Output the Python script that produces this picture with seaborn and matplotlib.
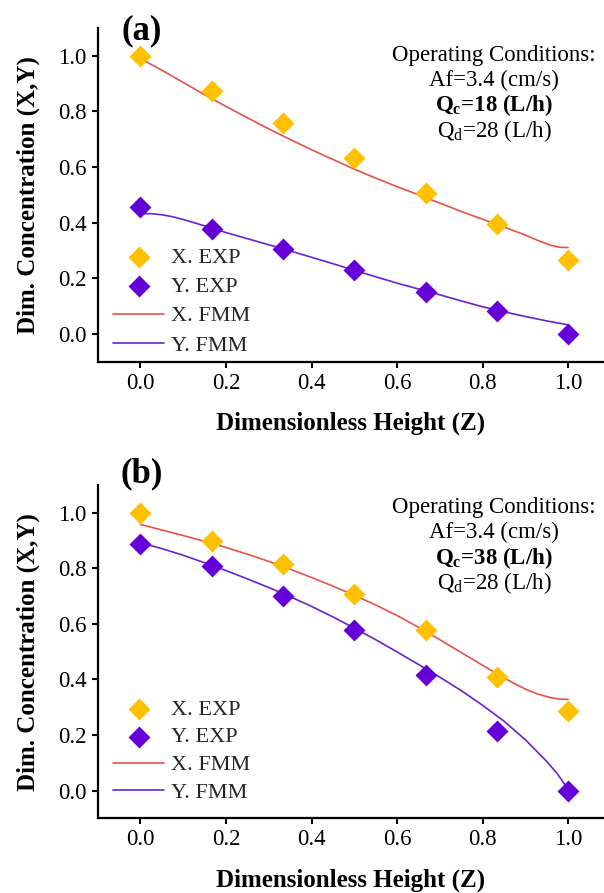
import matplotlib
matplotlib.use("Agg")
import matplotlib.pyplot as plt
import seaborn as sns

# ---------------- data ----------------
z_exp = [0.0, 0.167, 0.333, 0.5, 0.667, 0.833, 1.0]

# panel (a)  Qc = 18 L/h
xa_exp = [1.0, 0.875, 0.759, 0.633, 0.507, 0.393, 0.267]
ya_exp = [0.456, 0.378, 0.306, 0.228, 0.149, 0.080, 0.0]
z_fmm_a_x = [0.0, 0.05, 0.1, 0.15, 0.2, 0.25, 0.3, 0.35, 0.4, 0.45, 0.5, 0.55,
             0.6, 0.65, 0.7, 0.75, 0.8, 0.85, 0.9, 0.93, 0.96, 0.98, 1.0]
xa_fmm = [0.990, 0.948, 0.904, 0.860, 0.818, 0.777, 0.737, 0.699, 0.662, 0.627,
          0.592, 0.560, 0.529, 0.500, 0.470, 0.440, 0.412, 0.384, 0.355, 0.335,
          0.318, 0.311, 0.310]
z_fmm_a_y = [0.0, 0.025, 0.05, 0.075, 0.1, 0.15, 0.2, 0.25, 0.3, 0.35, 0.4,
             0.45, 0.5, 0.55, 0.6, 0.65, 0.7, 0.75, 0.8, 0.85, 0.9, 0.95, 1.0]
ya_fmm = [0.432, 0.432, 0.428, 0.421, 0.411, 0.388, 0.364, 0.342, 0.320, 0.298,
          0.275, 0.252, 0.228, 0.205, 0.182, 0.161, 0.140, 0.118, 0.097, 0.079,
          0.062, 0.046, 0.032]

# panel (b)  Qc = 38 L/h
xb_exp = [1.0, 0.899, 0.817, 0.707, 0.577, 0.408, 0.288]
yb_exp = [0.887, 0.808, 0.702, 0.577, 0.417, 0.216, 0.0]
z_fmm_b_x = [0.0, 0.05, 0.1, 0.15, 0.2, 0.25, 0.3, 0.35, 0.4, 0.45, 0.5, 0.55,
             0.6, 0.65, 0.7, 0.75, 0.8, 0.85, 0.9, 0.93, 0.96, 0.98, 1.0]
xb_fmm = [0.958, 0.938, 0.918, 0.897, 0.875, 0.851, 0.825, 0.797, 0.767, 0.736,
          0.703, 0.668, 0.630, 0.588, 0.543, 0.497, 0.451, 0.405, 0.365, 0.347,
          0.334, 0.329, 0.328]
z_fmm_b_y = [0.0, 0.05, 0.1, 0.15, 0.2, 0.25, 0.3, 0.35, 0.4, 0.45, 0.5, 0.55,
             0.6, 0.65, 0.7, 0.75, 0.8, 0.85, 0.9, 0.95, 0.975, 1.0]
yb_fmm = [0.892, 0.871, 0.847, 0.820, 0.792, 0.762, 0.731, 0.698, 0.663, 0.625,
          0.585, 0.543, 0.499, 0.454, 0.408, 0.360, 0.307, 0.250, 0.183, 0.105,
          0.060, 0.005]

labels = ["X. EXP", "Y. EXP", "X. FMM", "Y. FMM"]
conditions = [
    ["Operating Conditions:", "Af=3.4 (cm/s)", "18", "Q$_\\mathrm{d}$=28 (L/h)"],
    ["Operating Conditions:", "Af=3.4 (cm/s)", "38", "Q$_\\mathrm{d}$=28 (L/h)"],
]
panel_tags = ["(a)", "(b)"]

# ---------------- style ----------------
sns.set_theme(style="white")
plt.rcParams["font.family"] = ["Liberation Serif", "DejaVu Serif"]
plt.rcParams["mathtext.fontset"] = "custom"
plt.rcParams["mathtext.rm"] = "Liberation Serif"
plt.rcParams["mathtext.it"] = "Liberation Serif:italic"
plt.rcParams["mathtext.bf"] = "Liberation Serif:bold"

C_XEXP = "#FFC000"
C_YEXP = "#6600D8"
C_XFMM = "#E5524C"
C_YFMM = "#6A22CF"

fig = plt.figure(figsize=(6.04, 8.93), dpi=100)
W, H = 604.0, 893.0

panels = [
    dict(top=28, bottom=361.5, xe=xa_exp, ye=ya_exp,
         zfx=z_fmm_a_x, xf=xa_fmm, zfy=z_fmm_a_y, yf=ya_fmm,
         tag_y=31, text_y=[55, 80, 105, 131], leg_top=247, spacing=0.4),
    dict(top=485, bottom=818.3, xe=xb_exp, ye=yb_exp,
         zfx=z_fmm_b_x, xf=xb_fmm, zfy=z_fmm_b_y, yf=yb_fmm,
         tag_y=474, text_y=[507, 532, 558, 583], leg_top=699, spacing=0.33),
]

left_px = 97.7
for i, p in enumerate(panels):
    ax = fig.add_axes([left_px / W, 1 - p["bottom"] / H, (W - left_px) / W,
                       (p["bottom"] - p["top"]) / H])
    ph = p["bottom"] - p["top"]

    sns.lineplot(x=p["zfx"], y=p["xf"], color=C_XFMM, linewidth=1.2, ax=ax,
                 estimator=None, sort=False, label=labels[2], zorder=2)
    sns.lineplot(x=p["zfy"], y=p["yf"], color=C_YFMM, linewidth=1.2, ax=ax,
                 estimator=None, sort=False, label=labels[3], zorder=2)
    sns.scatterplot(x=z_exp, y=p["xe"], color=C_XEXP, marker="D", s=125,
                    linewidth=0, ax=ax, label=labels[0], zorder=3)
    sns.scatterplot(x=z_exp, y=p["ye"], color=C_YEXP, marker="D", s=125,
                    linewidth=0, ax=ax, label=labels[1], zorder=3)

    ax.set_xlim(-0.1, 1.084)
    ax.set_ylim(-0.1, 1.1)
    ticks = [0.0, 0.2, 0.4, 0.6, 0.8, 1.0]
    ax.set_xticks(ticks)
    ax.set_yticks(ticks)
    ax.set_xticklabels([f"{t:.1f}" for t in ticks])
    ax.set_yticklabels([f"{t:.1f}" for t in ticks])
    ax.tick_params(axis="both", which="major", direction="out", length=4,
                   width=1.5, color="black", labelsize=16.5, pad=4,
                   left=True, bottom=True, labelcolor="black")
    for side in ["top", "right"]:
        ax.spines[side].set_visible(False)
    for side in ["left", "bottom"]:
        ax.spines[side].set_color("black")
        ax.spines[side].set_linewidth(1.6)

    ax.set_xlabel("Dimensionless Height (Z)", fontsize=18, fontweight="bold",
                  labelpad=13, color="black")
    ax.set_ylabel("Dim. Concentration (X,Y)", fontsize=18, fontweight="bold",
                  labelpad=13, color="black")

    # legend
    handles, labs = ax.get_legend_handles_labels()
    order = [labs.index(l) for l in labels]
    ax.legend([handles[k] for k in order], [labs[k] for k in order],
              loc="upper left",
              bbox_to_anchor=((113 - left_px) / (W - left_px),
                              (p["bottom"] - p["leg_top"]) / ph),
              frameon=False, fontsize=16, borderpad=0, borderaxespad=0,
              handlelength=2.3, handletextpad=0.3, labelspacing=p["spacing"],
              markerscale=1.0)

    # operating conditions text
    cx = (494 - left_px) / (W - left_px)
    lines = conditions[i]
    for j, ty in enumerate(p["text_y"]):
        yy = (p["bottom"] - ty) / ph
        if j == 2:
            ax.text(cx, yy, "$\\mathbf{Q}_\\mathbf{c}$=" + lines[2] + " (L/h)",
                    transform=ax.transAxes, ha="center", va="center",
                    fontsize=16.5, fontweight="bold", color="black")
        else:
            ax.text(cx, yy, lines[j], transform=ax.transAxes, ha="center",
                    va="center", fontsize=16.5, color="black")

    fig.text(142 / W, 1 - p["tag_y"] / H, panel_tags[i], ha="center", va="center",
             fontsize=25, fontweight="bold", color="black")

fig.savefig("out.png", dpi=100)
